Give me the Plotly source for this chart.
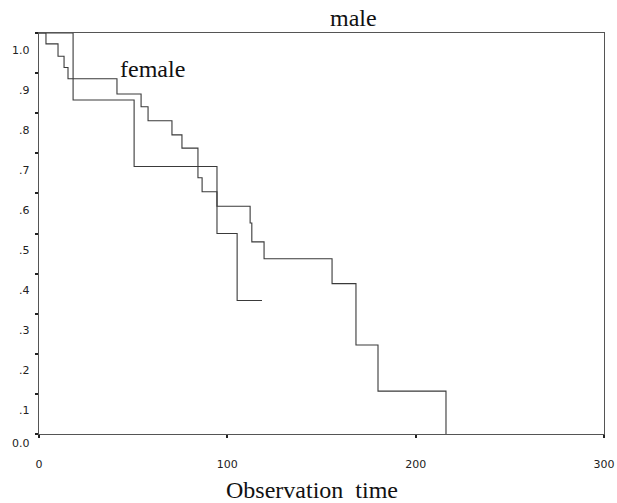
import plotly.graph_objects as go

# Kaplan-Meier survival estimates
male_time = [0, 18.1, 50.5, 94.5, 105.2, 118.4]
male_surv = [1.0, 0.833, 0.667, 0.5, 0.333, 0.333]

female_time = [0, 3.7, 10.1, 13.3, 15.4, 41.4, 54.2, 57.9, 70.6, 75.9, 84.4, 86.6,
               94.5, 112.1, 113.0, 119.5, 155.6, 168.3, 180.0, 216.1]
female_surv = [1.0, 0.973, 0.942, 0.914, 0.886, 0.848, 0.816, 0.781, 0.746, 0.713, 0.639, 0.604,
               0.568, 0.526, 0.479, 0.437, 0.375, 0.222, 0.107, 0.0]

y_tick_values = [1.0, 0.9, 0.8, 0.7, 0.6, 0.5, 0.4, 0.3, 0.2, 0.1, 0.0]
y_tick_labels = ["1.0", ".9", ".8", ".7", ".6", ".5", ".4", ".3", ".2", ".1", "0.0"]
x_tick_values = [0, 100, 200, 300]
x_tick_labels = ["0", "100", "200", "300"]

line_col = "#3a3a3a"
axis_col = "#555555"
sans = "DejaVu Sans, Arial, sans-serif"
serif = "Liberation Serif, Times New Roman, serif"

fig = go.Figure()
fig.add_trace(go.Scatter(x=male_time, y=male_surv, mode="lines", line_shape="hv",
                         line=dict(color=line_col, width=1.1), name="male", showlegend=False,
                         cliponaxis=False))
fig.add_trace(go.Scatter(x=female_time, y=female_surv, mode="lines", line_shape="hv",
                         line=dict(color=line_col, width=1.1), name="female", showlegend=False,
                         cliponaxis=False))

annotations = []
for v, lab in zip(y_tick_values, y_tick_labels):
    annotations.append(dict(xref="paper", yref="y", x=0, y=v, text=lab, showarrow=False,
                            xanchor="right", yanchor="middle", xshift=-7,
                            yshift=(-9 if v == 0 else -17),
                            font=dict(family=sans, size=11, color="#222222")))

annotations.append(dict(xref="paper", yref="paper", x=0.5575, y=1, text="male", showarrow=False,
                        xanchor="center", yanchor="middle", yshift=15,
                        font=dict(family=serif, size=24, color="#111111")))
annotations.append(dict(xref="x", yref="y", x=60.5, y=0.909, text="female", showarrow=False,
                        xanchor="center", yanchor="middle",
                        font=dict(family=serif, size=24, color="#111111")))
annotations.append(dict(xref="paper", yref="paper", x=0.483, y=0, text="Observation  time",
                        showarrow=False, xanchor="center", yanchor="middle", yshift=-56,
                        font=dict(family=serif, size=24, color="#111111")))

fig.update_layout(
    width=617, height=503,
    autosize=False,
    margin=dict(l=39, r=13, t=33, b=69, autoexpand=False),
    paper_bgcolor="white", plot_bgcolor="white",
    showlegend=False,
    annotations=annotations,
    xaxis=dict(range=[0, 300], tickvals=x_tick_values, ticktext=x_tick_labels,
               automargin=False,
               showgrid=False, zeroline=False, showline=True, mirror=True,
               linecolor=axis_col, linewidth=1.3, ticks="outside", ticklen=3, tickwidth=2,
               tickcolor="#222222", ticklabelstandoff=17,
               tickfont=dict(family=sans, size=11, color="#222222")),
    yaxis=dict(range=[0, 1.0], tickvals=y_tick_values, showticklabels=False,
               automargin=False,
               showgrid=False, zeroline=False, showline=True, mirror=True,
               linecolor=axis_col, linewidth=1.3, ticks="outside", ticklen=3, tickwidth=2,
               tickcolor="#222222"),
)

# remove the default page margin so the 617x503 figure fills the window exactly
fig.write_html("out.html", config={"displayModeBar": False},
               post_script="document.body.style.margin='0';document.body.style.overflow='hidden';")
